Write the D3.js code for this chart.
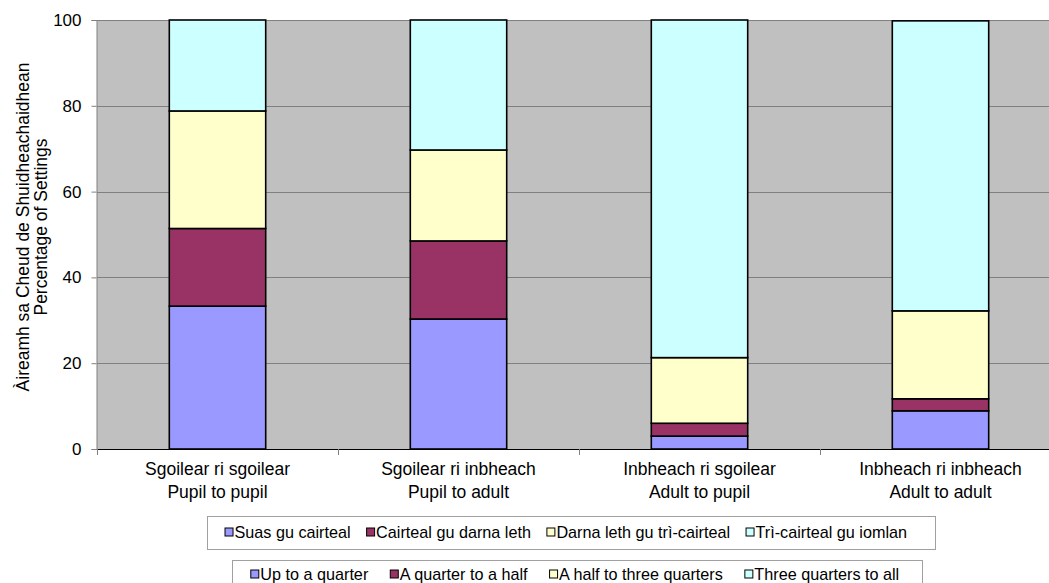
<!DOCTYPE html>
<html>
<head>
<meta charset="utf-8">
<script src="https://cdn.jsdelivr.net/npm/d3@7"></script>
<style>
  html, body { margin: 0; padding: 0; background: #ffffff; }
  svg { display: block; font-family: "Liberation Sans", Arial, sans-serif; }
</style>
</head>
<body>
<svg id="chart" width="1049" height="583"></svg>
<script>
// Settings by interaction type, split into four bands of time share
const categoriesGd = ["Sgoilear ri sgoilear", "Sgoilear ri inbheach", "Inbheach ri sgoilear", "Inbheach ri inbheach"];
const categoriesEn = ["Pupil to pupil", "Pupil to adult", "Adult to pupil", "Adult to adult"];

const seriesGd = ["Suas gu cairteal", "Cairteal gu darna leth", "Darna leth gu trì-cairteal", "Trì-cairteal gu iomlan"];
const seriesEn = ["Up to a quarter", "A quarter to a half", "A half to three quarters", "Three quarters to all"];
const seriesColors = ["#9999FF", "#993366", "#FFFFCC", "#CCFFFF"];

const upToQuarter      = [33.3, 30.3, 3.0, 8.9];
const quarterToHalf    = [18.1, 18.2, 3.0, 2.8];
const halfToThreeQ     = [27.4, 21.2, 15.3, 20.5];
const threeQToAll      = [21.2, 30.3, 78.7, 67.6];

const yTicks = [0, 20, 40, 60, 80, 100];
const yTitle = ["Àireamh sa Cheud de Shuidheachaidhean", "Percentage of Settings"];

const rows = categoriesGd.map((c, i) => ({
  cat: c,
  s0: upToQuarter[i], s1: quarterToHalf[i], s2: halfToThreeQ[i], s3: threeQToAll[i]
}));
const keys = ["s0", "s1", "s2", "s3"];

const svg = d3.select("#chart");
const plot = { left: 97, right: 1061, top: 20, bottom: 449 };
const fontMain = 17.5;

const x = d3.scaleBand()
  .domain(categoriesGd)
  .range([plot.left, plot.right])
  .paddingInner(0.6)
  .paddingOuter(0.3);
const step = x.step();

const y = d3.scaleLinear().domain([0, 100]).range([plot.bottom, plot.top]);

// plot background
svg.append("rect")
  .attr("x", plot.left).attr("y", plot.top)
  .attr("width", plot.right - plot.left).attr("height", plot.bottom - plot.top)
  .attr("fill", "#C0C0C0");

// horizontal gridlines
svg.append("g")
  .selectAll("line")
  .data(yTicks.filter(t => t > 0))
  .join("line")
  .attr("x1", plot.left).attr("x2", plot.right)
  .attr("y1", d => Math.round(y(d)) + 0.5).attr("y2", d => Math.round(y(d)) + 0.5)
  .attr("stroke", "#808080").attr("stroke-width", 1);

// y axis
const yAxis = svg.append("g")
  .attr("transform", `translate(${plot.left - 0.5},0)`)
  .call(d3.axisLeft(y).tickValues(yTicks).tickSize(5).tickPadding(10).tickFormat(d3.format("d")));
yAxis.select(".domain").attr("stroke", "#808080");
yAxis.selectAll(".tick line").attr("stroke", "#808080");
yAxis.selectAll(".tick text")
  .attr("font-size", 17).attr("fill", "#000")
  .attr("font-family", "'Liberation Sans', Arial, sans-serif");

// stacked bars
const stack = d3.stack().keys(keys)(rows);
svg.append("g")
  .selectAll("g")
  .data(stack)
  .join("g")
  .attr("fill", (d, i) => seriesColors[i])
  .selectAll("rect")
  .data(d => d)
  .join("rect")
  .attr("x", d => x(d.data.cat))
  .attr("y", d => y(d[1]))
  .attr("width", x.bandwidth())
  .attr("height", d => y(d[0]) - y(d[1]))
  .attr("stroke", "#000")
  .attr("stroke-width", 1.6);

// x axis (category boundaries as ticks)
const xAxisG = svg.append("g");
xAxisG.append("line")
  .attr("x1", plot.left).attr("x2", plot.right)
  .attr("y1", plot.bottom + 0.5).attr("y2", plot.bottom + 0.5)
  .attr("stroke", "#000").attr("stroke-width", 1.2);
xAxisG.selectAll("line.tk")
  .data(categoriesGd)
  .join("line")
  .attr("class", "tk")
  .attr("x1", d => Math.round(x(d) - (step - x.bandwidth()) / 2) + 0.5)
  .attr("x2", d => Math.round(x(d) - (step - x.bandwidth()) / 2) + 0.5)
  .attr("y1", plot.bottom).attr("y2", plot.bottom + 6)
  .attr("stroke", "#808080");

const labels = xAxisG.selectAll("text.cat")
  .data(categoriesGd)
  .join("text")
  .attr("class", "cat")
  .attr("text-anchor", "middle")
  .attr("font-size", fontMain)
  .attr("fill", "#000");
labels.append("tspan")
  .attr("x", d => x(d) + x.bandwidth() / 2)
  .attr("y", 475)
  .text(d => d);
labels.append("tspan")
  .attr("x", d => x(d) + x.bandwidth() / 2)
  .attr("y", 498)
  .text((d, i) => categoriesEn[i]);

// y axis title
const yt = svg.append("text")
  .attr("transform", "translate(0,227) rotate(-90)")
  .attr("text-anchor", "middle")
  .attr("font-size", fontMain)
  .attr("fill", "#000");
yt.append("tspan").attr("x", 0).attr("y", 29).text(yTitle[0]);
yt.append("tspan").attr("x", 0).attr("y", 47).text(yTitle[1]);

// legends: a framed row of swatches and names, centred on cx
function drawLegend(names, cx, gap, box, baseline) {
  const g = svg.append("g");
  g.append("rect")
    .attr("x", box.x0 + 0.5).attr("y", box.y0 + 0.5)
    .attr("width", box.x1 - box.x0).attr("height", box.y1 - box.y0)
    .attr("fill", "#fff").attr("stroke", "#A0A0A0").attr("stroke-width", 1);
  const items = g.selectAll("g.item").data(names).join("g").attr("class", "item");
  const sw = 8, gapAfterSwatch = 1.5;
  items.append("rect")
    .attr("width", sw).attr("height", sw)
    .attr("y", baseline - 10)
    .attr("fill", (d, i) => seriesColors[i])
    .attr("stroke", "#000").attr("stroke-width", 1);
  items.append("text")
    .attr("x", sw + gapAfterSwatch)
    .attr("y", baseline)
    .attr("font-size", 16.2)
    .attr("fill", "#000")
    .text(d => d);
  const widths = [];
  items.each(function () {
    widths.push(sw + gapAfterSwatch + d3.select(this).select("text").node().getComputedTextLength());
  });
  const total = d3.sum(widths) + gap * (names.length - 1);
  let pos = cx - total / 2;
  items.each(function (d, i) {
    d3.select(this).attr("transform", `translate(${pos},0)`);
    pos += widths[i] + gap;
  });
}
drawLegend(seriesGd, 566, 16, { x0: 207, x1: 935, y0: 516, y1: 549 }, 538);
drawLegend(seriesEn, 575, 22, { x0: 232, x1: 922, y0: 560, y1: 600 }, 580);
</script>
</body>
</html>
